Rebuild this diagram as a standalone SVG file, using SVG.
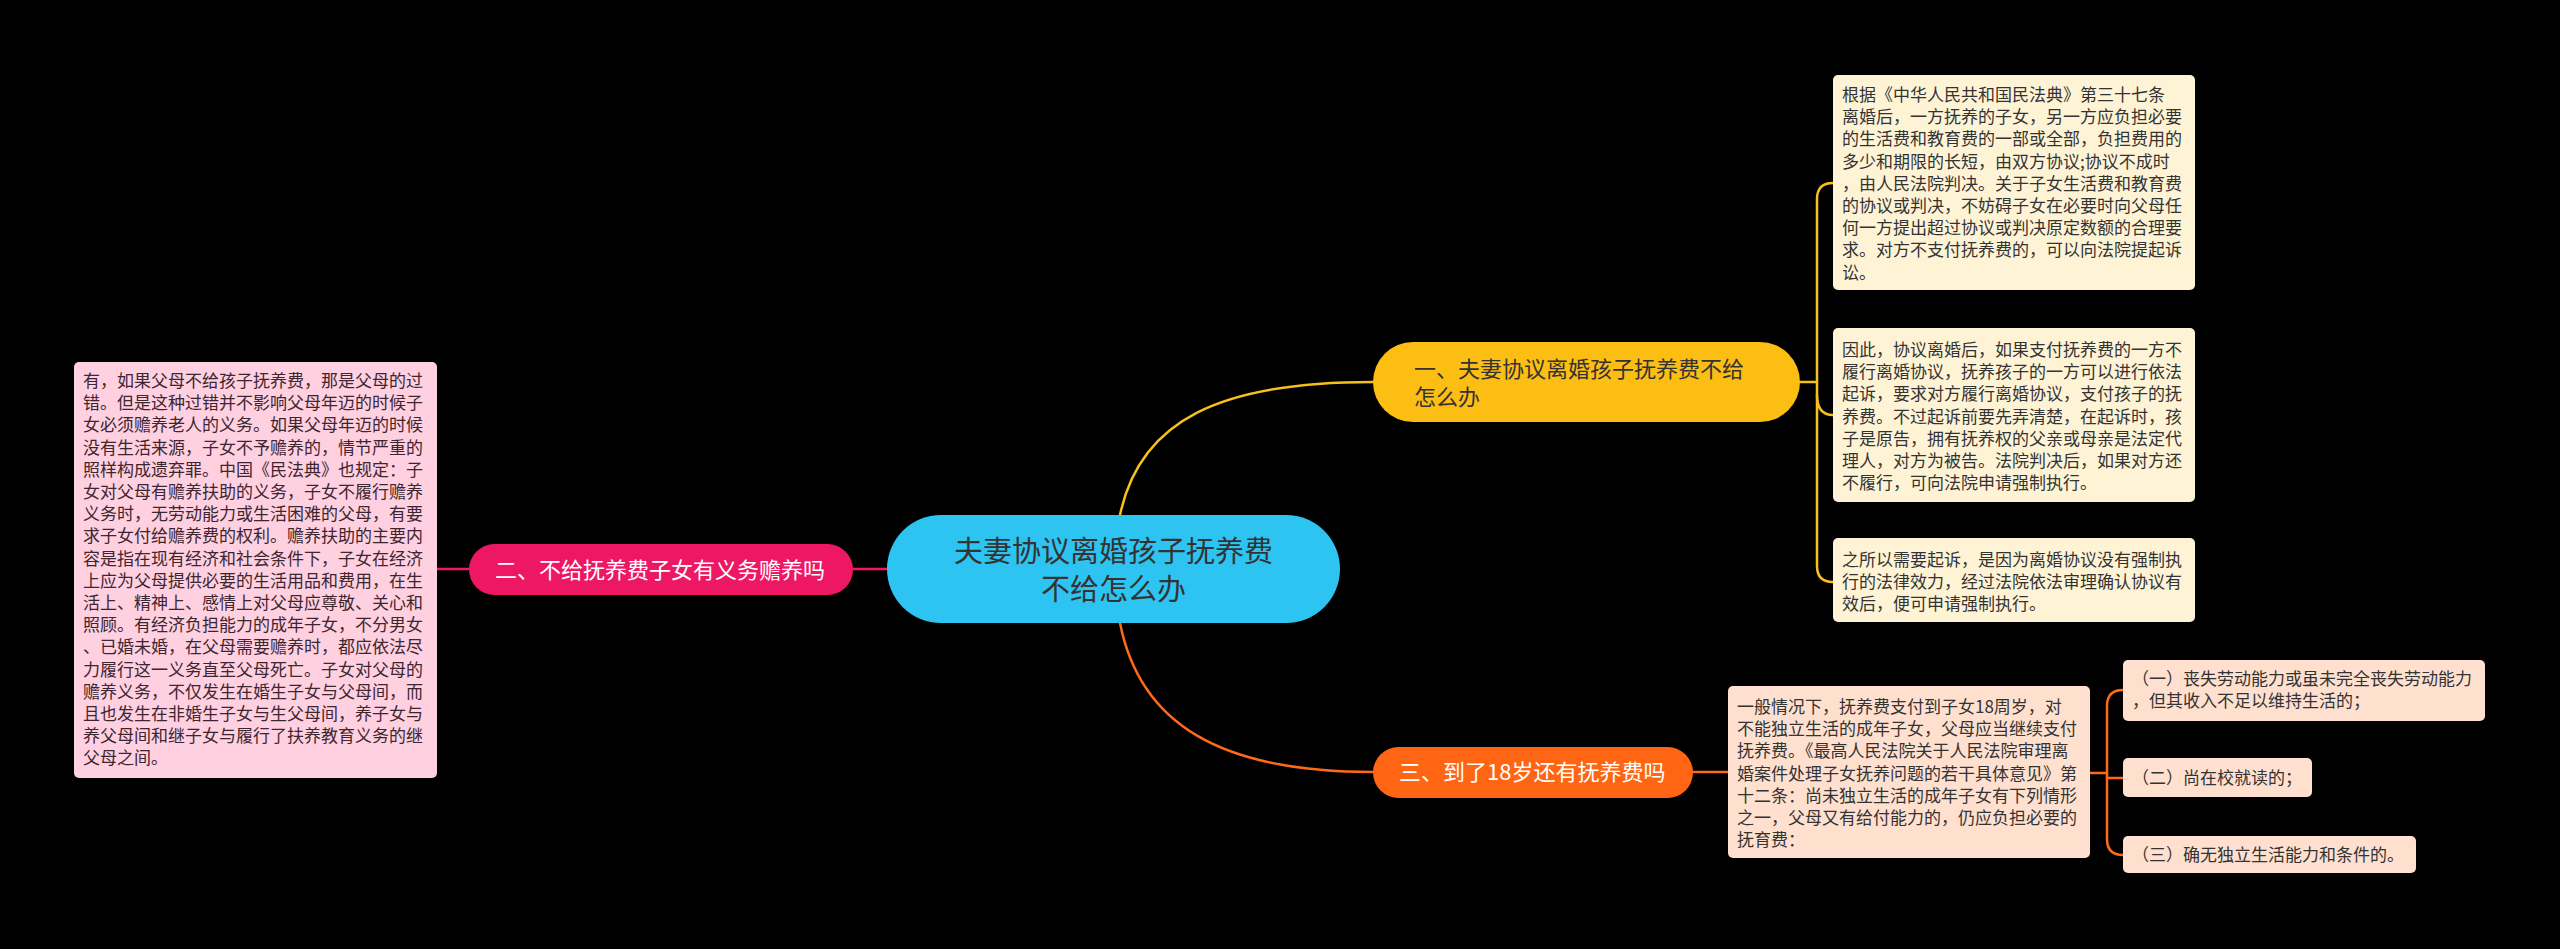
<svg xmlns="http://www.w3.org/2000/svg" width="2560" height="949" viewBox="0 0 2560 949">
<style>
text{font-family:"Noto Sans CJK SC","Noto Sans",sans-serif}
.body{font-size:17px;fill:#333}
.pinkt{font-size:17px;fill:#3d2630}
.pill{font-size:22px}
.conn{fill:none;stroke-width:2.5;stroke-linecap:round}
.y{stroke:#F6C11B}
.o{stroke:#FF6A1A}
.p{stroke:#EC1A63}
</style>
<rect width="2560" height="949" fill="#000"/>
<g id="connectors">
<path class="conn y" d="M1120,515 C1140,420 1220,382 1373,382"/>
<path class="conn o" d="M1120,623 C1140,724 1220,772 1373,772"/>
<path class="conn p" d="M887,569 H853"/>
<path class="conn p" d="M469,569 H437"/>
<path class="conn y" d="M1800,382 H1817"/>
<path class="conn y" d="M1833,183 Q1817,183 1817,199 V566 Q1817,582 1833,582"/>
<path class="conn y" d="M1817,395 Q1817,415 1833,415"/>
<path class="conn o" d="M1693,772 H1728"/>
<path class="conn o" d="M2090,773 H2107"/>
<path class="conn o" d="M2123,690 Q2107,690 2107,706 V839 Q2107,855 2123,855"/>
<path class="conn o" d="M2107,778 H2123"/>
</g>
<g id="center">
<rect x="887" y="515" width="453" height="108" rx="54" fill="#2EC4F2"/>
<text x="1113.5" y="562" font-size="29" fill="#333" text-anchor="middle">夫妻协议离婚孩子抚养费</text>
<text x="1113.5" y="600" font-size="29" fill="#333" text-anchor="middle">不给怎么办</text>
</g>
<g id="branch1">
<rect x="1373" y="342" width="427" height="80" rx="40" fill="#FDBE13"/>
<text class="pill" x="1414" y="377" fill="#333">一、夫妻协议离婚孩子抚养费不给</text>
<text class="pill" x="1414" y="405" fill="#333">怎么办</text>
</g>
<g id="branch2">
<rect x="469" y="544" width="384" height="51" rx="25.5" fill="#EE1763"/>
<text class="pill" x="495" y="578" fill="#fff">二、不给抚养费子女有义务赡养吗</text>
</g>
<g id="branch3">
<rect x="1373" y="747" width="320" height="51" rx="25.5" fill="#FF6512"/>
<text class="pill" x="1399" y="780" fill="#fff">三、到了18岁还有抚养费吗</text>
</g>
<g id="leaf-pink">
<rect x="74" y="362" width="363" height="416" rx="5" fill="#FFD0E0"/>
<text class="pinkt">
<tspan x="83" y="387">有，如果父母不给孩子抚养费，那是父母的过</tspan>
<tspan x="83" y="409.2">错。但是这种过错并不影响父母年迈的时候子</tspan>
<tspan x="83" y="431.4">女必须赡养老人的义务。如果父母年迈的时候</tspan>
<tspan x="83" y="453.6">没有生活来源，子女不予赡养的，情节严重的</tspan>
<tspan x="83" y="475.8">照样构成遗弃罪。中国《民法典》也规定：子</tspan>
<tspan x="83" y="498">女对父母有赡养扶助的义务，子女不履行赡养</tspan>
<tspan x="83" y="520.2">义务时，无劳动能力或生活困难的父母，有要</tspan>
<tspan x="83" y="542.4">求子女付给赡养费的权利。赡养扶助的主要内</tspan>
<tspan x="83" y="564.6">容是指在现有经济和社会条件下，子女在经济</tspan>
<tspan x="83" y="586.8">上应为父母提供必要的生活用品和费用，在生</tspan>
<tspan x="83" y="609">活上、精神上、感情上对父母应尊敬、关心和</tspan>
<tspan x="83" y="631.2">照顾。有经济负担能力的成年子女，不分男女</tspan>
<tspan x="83" y="653.4">、已婚未婚，在父母需要赡养时，都应依法尽</tspan>
<tspan x="83" y="675.6">力履行这一义务直至父母死亡。子女对父母的</tspan>
<tspan x="83" y="697.8">赡养义务，不仅发生在婚生子女与父母间，而</tspan>
<tspan x="83" y="720">且也发生在非婚生子女与生父母间，养子女与</tspan>
<tspan x="83" y="742.2">养父母间和继子女与履行了扶养教育义务的继</tspan>
<tspan x="83" y="764.4">父母之间。</tspan>
</text>
</g>
<g id="leaf-y1">
<rect x="1833" y="75" width="362" height="215" rx="5" fill="#FFF3D6"/>
<text class="body">
<tspan x="1842" y="101">根据《中华人民共和国民法典》第三十七条</tspan>
<tspan x="1842" y="123.2">离婚后，一方抚养的子女，另一方应负担必要</tspan>
<tspan x="1842" y="145.4">的生活费和教育费的一部或全部，负担费用的</tspan>
<tspan x="1842" y="167.6">多少和期限的长短，由双方协议;协议不成时</tspan>
<tspan x="1842" y="189.8">，由人民法院判决。关于子女生活费和教育费</tspan>
<tspan x="1842" y="212">的协议或判决，不妨碍子女在必要时向父母任</tspan>
<tspan x="1842" y="234.2">何一方提出超过协议或判决原定数额的合理要</tspan>
<tspan x="1842" y="256.4">求。对方不支付抚养费的，可以向法院提起诉</tspan>
<tspan x="1842" y="278.6">讼。</tspan>
</text>
</g>
<g id="leaf-y2">
<rect x="1833" y="328" width="362" height="174" rx="5" fill="#FFF3D6"/>
<text class="body">
<tspan x="1842" y="356">因此，协议离婚后，如果支付抚养费的一方不</tspan>
<tspan x="1842" y="378.2">履行离婚协议，抚养孩子的一方可以进行依法</tspan>
<tspan x="1842" y="400.4">起诉，要求对方履行离婚协议，支付孩子的抚</tspan>
<tspan x="1842" y="422.6">养费。不过起诉前要先弄清楚，在起诉时，孩</tspan>
<tspan x="1842" y="444.8">子是原告，拥有抚养权的父亲或母亲是法定代</tspan>
<tspan x="1842" y="467">理人，对方为被告。法院判决后，如果对方还</tspan>
<tspan x="1842" y="489.2">不履行，可向法院申请强制执行。</tspan>
</text>
</g>
<g id="leaf-y3">
<rect x="1833" y="538" width="362" height="84" rx="5" fill="#FFF3D6"/>
<text class="body">
<tspan x="1842" y="566">之所以需要起诉，是因为离婚协议没有强制执</tspan>
<tspan x="1842" y="588.2">行的法律效力，经过法院依法审理确认协议有</tspan>
<tspan x="1842" y="610.4">效后，便可申请强制执行。</tspan>
</text>
</g>
<g id="leaf-o1">
<rect x="1728" y="686" width="362" height="172" rx="5" fill="#FFE0CF"/>
<text class="body">
<tspan x="1737" y="713">一般情况下，抚养费支付到子女18周岁，对</tspan>
<tspan x="1737" y="735.2">不能独立生活的成年子女，父母应当继续支付</tspan>
<tspan x="1737" y="757.4">抚养费。《最高人民法院关于人民法院审理离</tspan>
<tspan x="1737" y="779.6">婚案件处理子女抚养问题的若干具体意见》第</tspan>
<tspan x="1737" y="801.8">十二条：尚未独立生活的成年子女有下列情形</tspan>
<tspan x="1737" y="824">之一，父母又有给付能力的，仍应负担必要的</tspan>
<tspan x="1737" y="846.2">抚育费：</tspan>
</text>
</g>
<g id="leaf-o2">
<rect x="2123" y="660" width="362" height="61" rx="5" fill="#FFE0CF"/>
<text class="body">
<tspan x="2132" y="685">（一）丧失劳动能力或虽未完全丧失劳动能力</tspan>
<tspan x="2132" y="707.2">，但其收入不足以维持生活的；</tspan>
</text>
</g>
<g id="leaf-o3">
<rect x="2123" y="758" width="189" height="39" rx="5" fill="#FFE0CF"/>
<text class="body" x="2132" y="784">（二）尚在校就读的；</text>
</g>
<g id="leaf-o4">
<rect x="2123" y="836" width="293" height="37" rx="5" fill="#FFE0CF"/>
<text class="body" x="2132" y="861">（三）确无独立生活能力和条件的。</text>
</g>
</svg>
